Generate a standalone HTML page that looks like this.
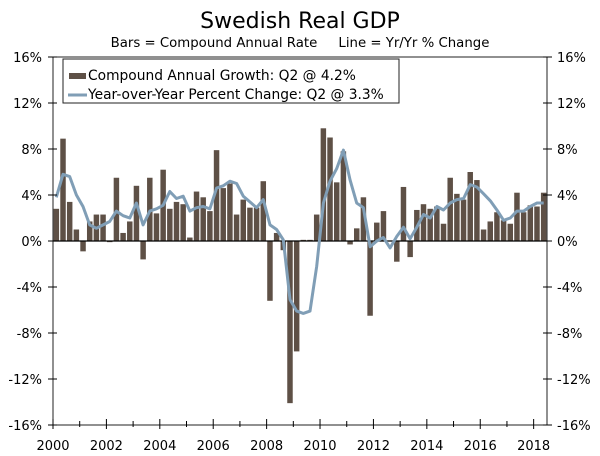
<!DOCTYPE html>
<html><head><meta charset="utf-8"><style>
body{margin:0;background:#fff}
svg{display:block;font-family:"DejaVu Sans",Verdana,sans-serif}
</style></head><body>
<svg id="c" width="600" height="456" xmlns="http://www.w3.org/2000/svg">
<text x="300" y="28" text-anchor="middle" font-size="22" fill="#000">Swedish Real GDP</text>
<text x="300" y="47" text-anchor="middle" font-size="13.3" fill="#000" xml:space="preserve">Bars = Compound Annual Rate     Line = Yr/Yr % Change</text>
<g id="plot"></g>
</svg>
<script>
const yTicks=[16,12,8,4,0,-4,-8,-12,-16];
const yearLabels=["2000","2002","2004","2006","2008","2010","2012","2014","2016","2018"];
const barValues=[2.8,8.9,3.4,1.0,-0.9,1.7,2.3,2.3,-0.1,5.5,0.7,1.7,4.8,-1.6,5.5,2.4,6.2,2.8,3.4,3.2,0.3,4.3,3.8,2.6,
7.9,4.6,5.0,2.3,3.6,2.9,2.9,5.2,-5.2,0.7,-0.8,-14.1,-9.6,0.1,0.1,2.3,9.8,9.0,5.1,7.8,-0.3,1.1,3.8,-6.5,
1.6,2.6,0.0,-1.8,4.7,-1.4,2.7,3.2,2.8,3.0,1.5,5.5,4.1,3.6,6.0,5.3,1.0,1.7,2.5,1.8,1.5,4.2,2.5,3.1,3.0,4.2];
const yoyValues=[3.8,5.8,5.6,4.0,3.0,1.4,1.1,1.4,1.7,2.6,2.2,2.0,3.3,1.4,2.6,2.8,3.1,4.3,3.7,3.9,2.6,2.9,3.0,2.8,
4.6,4.8,5.2,5.0,3.9,3.4,2.9,3.6,1.4,1.0,0.1,-5.1,-6.1,-6.3,-6.1,-2.2,3.3,5.2,6.3,7.9,5.3,3.3,2.9,-0.5,
0.0,0.3,-0.6,0.4,1.2,0.2,1.2,2.3,2.0,3.0,2.7,3.3,3.6,3.7,4.9,4.7,4.1,3.5,2.7,1.8,2.0,2.6,2.6,3.0,3.3,3.3];
const L=53,R=547,T=57,B=425,startYear=2000,nQ=74;
const qw=(R-L)/nQ;
function y(v){return T+(16-v)/32*(B-T);}
function xq(i){return L+i*qw;}
const NS="http://www.w3.org/2000/svg";
const g=document.getElementById('plot');
function mk(t,a){const e=document.createElementNS(NS,t);for(const k in a)e.setAttribute(k,a[k]);g.appendChild(e);return e;}
barValues.forEach((v,i)=>{
 const r=mk('rect',{x:xq(i)+0.6,y:Math.min(y(v),y(0)),width:qw-1.2,height:Math.abs(y(v)-y(0)),fill:'#5e5046'});
 
 
});
let z=mk('line',{x1:L,x2:R,y1:y(0),y2:y(0),stroke:'#000','stroke-width':1.2});


const pts=yoyValues.map((v,i)=>(xq(i)+qw/2).toFixed(1)+','+y(v).toFixed(1)).join(' ');
let pl=mk('polyline',{points:pts,fill:'none',stroke:'#809eb6','stroke-width':3,'stroke-linejoin':'round'});


let fr=mk('rect',{x:L,y:T,width:R-L,height:B-T,fill:'none',stroke:'#222','stroke-width':1});


yTicks.forEach(v=>{
 mk('line',{x1:L-5,x2:L+4,y1:y(v),y2:y(v),stroke:'#000'});
 mk('line',{x1:R-4,x2:R+5,y1:y(v),y2:y(v),stroke:'#000'});
 const t1=mk('text',{x:42,y:y(v)+5,'text-anchor':'end','font-size':13});
 t1.textContent=v+'%';
 
 
 const t2=mk('text',{x:557,y:y(v)+5,'text-anchor':'start','font-size':13});
 t2.textContent=v+'%';
 
 
});
for(let yr=0;yr<=18;yr++){
 const x=xq(yr*4);
 mk('line',{x1:x,x2:x,y1:B-(yr%2?4:6),y2:B+(yr%2?2:4),stroke:'#000'});
}
yearLabels.forEach(s=>{
 const t=mk('text',{x:xq((+s-startYear)*4),y:450,'text-anchor':'middle','font-size':13});
 t.textContent=s;
 
 
});
const lg=mk('rect',{x:63,y:59,width:336,height:44,fill:'#fff',stroke:'#222'});


mk('rect',{x:69,y:73,width:17,height:6,fill:'#5e5046'});
mk('line',{x1:68,x2:87,y1:95,y2:95,stroke:'#809eb6','stroke-width':3});
const l1=mk('text',{x:88,y:80,'font-size':13.8});
l1.textContent='Compound Annual Growth: Q2 @ 4.2%';


const l2=mk('text',{x:88,y:99,'font-size':13.8});
l2.textContent='Year-over-Year Percent Change: Q2 @ 3.3%';


</script>
</body></html>
